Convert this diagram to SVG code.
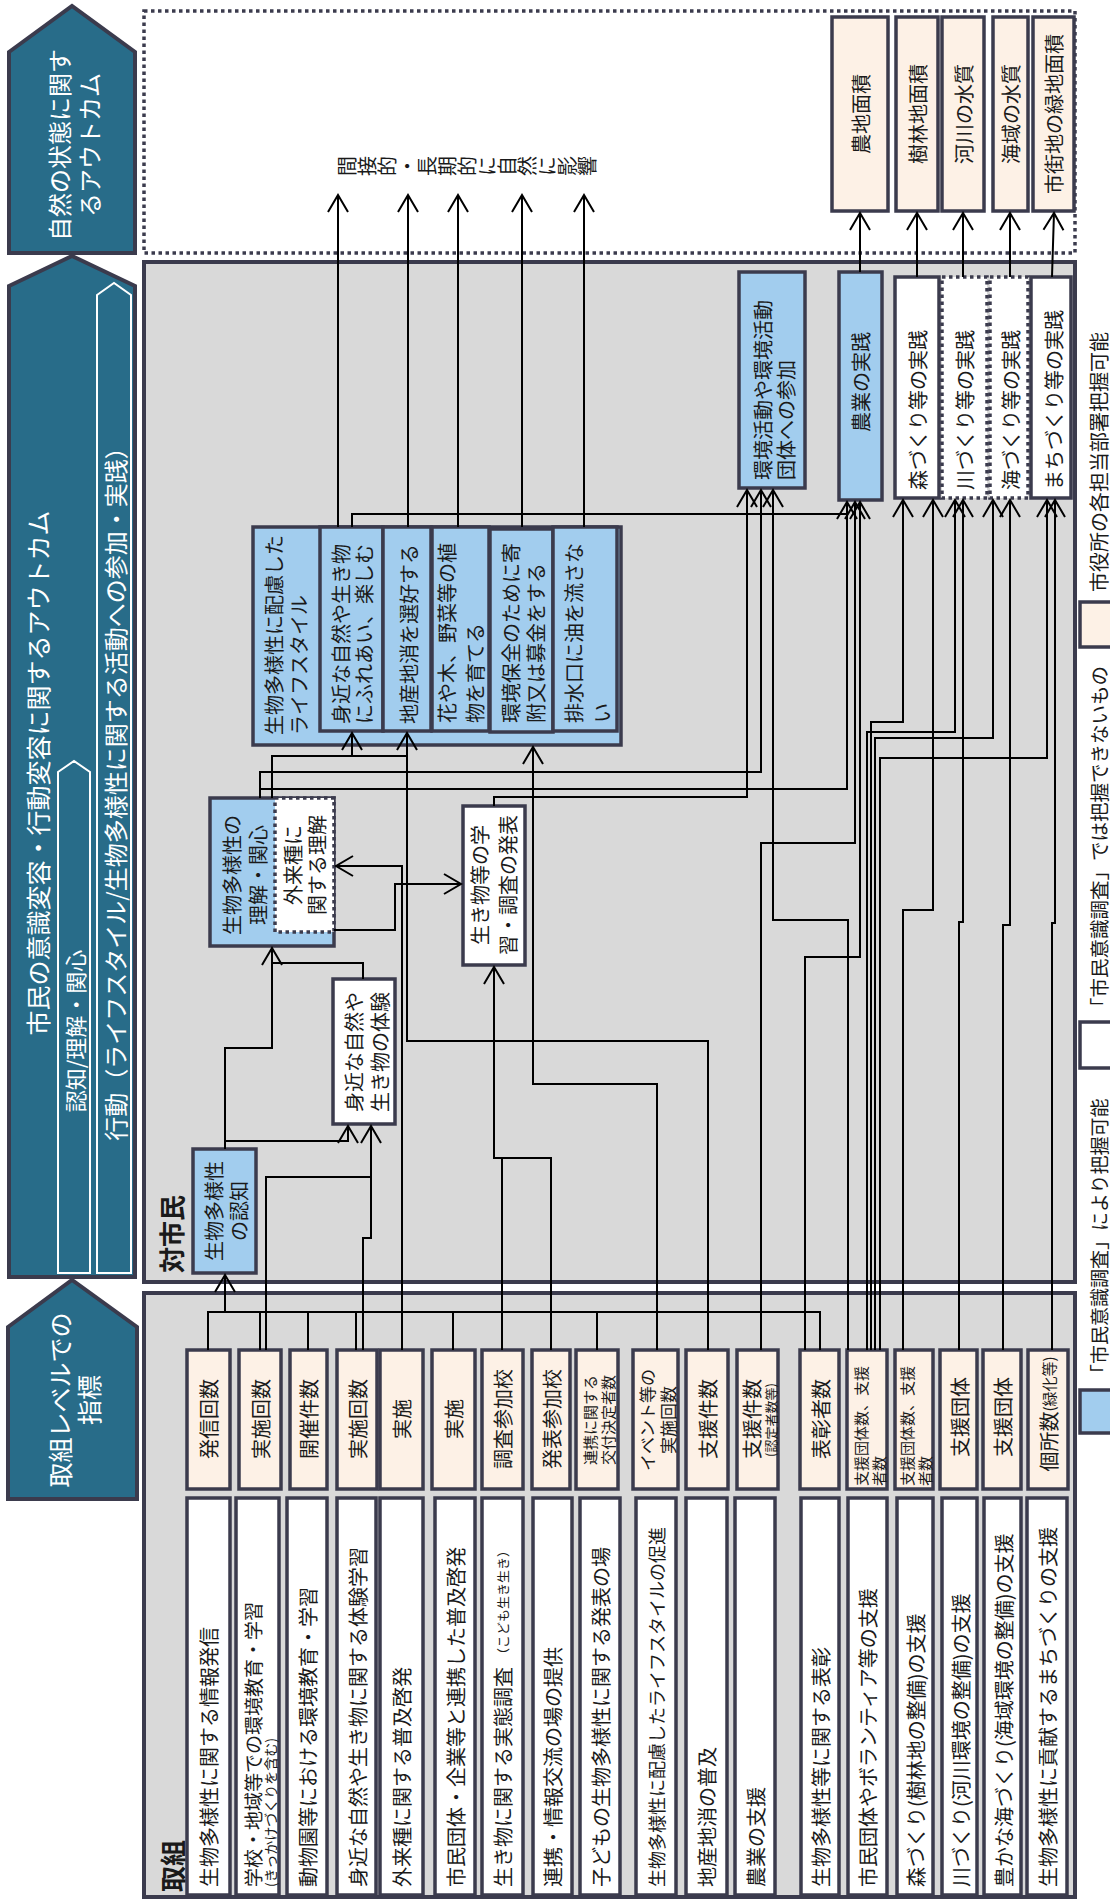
<svg xmlns="http://www.w3.org/2000/svg" width="1110" height="1899" viewBox="0 0 1110 1899">
<defs>
<style>
text{font-family:"Noto Sans CJK JP","Noto Sans",sans-serif;font-size:20px;fill:#1a1a1a}
.m{text-anchor:middle;dominant-baseline:central}
.s{text-anchor:start;dominant-baseline:central}
.wtx{fill:#fff}
.pent{fill:#286c89;stroke:#3b3b4d;stroke-width:4}
.inner{fill:none;stroke:#fff;stroke-width:2}
.region{fill:#d9d9d9;stroke:#3b3b4d;stroke-width:4}
.dotted{fill:#fff;stroke:#3b3b4d;stroke-width:3.5;stroke-dasharray:3.5 3.5}
.blue{fill:#a2cdee;stroke:#3b3b4d;stroke-width:3.5}
.peach{fill:#fdf1e6;stroke:#3b3b4d;stroke-width:3.5}
.white{fill:#fff;stroke:#3b3b4d;stroke-width:3.5}
.wdot{fill:#fff;stroke:#3b3b4d;stroke-width:3.5;stroke-dasharray:3.5 3.5}
.c{fill:none;stroke:#000;stroke-width:2}
.a{fill:none;stroke:#000;stroke-width:2;marker-end:url(#ah)}
.b{font-weight:bold;font-size:26px}
</style>
<marker id="ah" markerUnits="userSpaceOnUse" markerWidth="40" markerHeight="40" viewBox="-20 -20 40 40" refX="0" refY="0" orient="auto">
<path d="M-17,-10 L0,0 L-17,10" fill="none" stroke="#000" stroke-width="2"/>
</marker>
</defs>
<rect x="0" y="0" width="1110" height="1899" fill="#fff"/>

<!-- left header arrows -->
<g id="hdr-nature">
<polygon class="pent" points="9,52 72,6 135,52 135,253 9,253"/>
<text class="m wtx" style="font-size:24px" transform="translate(73 145) rotate(-90)"><tspan x="0" y="-15">自然の状態に関す</tspan><tspan x="0" y="15">るアウトカム</tspan></text>
</g>
<g id="hdr-citizen">
<polygon class="pent" points="9,286 72,256 135,286 135,1277 9,1277"/>
<polygon class="inner" points="58,772 74,761 90,772 90,1273 58,1273"/>
<polygon class="inner" points="97,295 114,283 131,295 131,1273 97,1273"/>
<text class="m wtx" style="font-size:25px" transform="translate(37 773) rotate(-90)">市民の意識変容・行動変容に関するアウトカム</text>
<text class="m wtx" style="font-size:22px" transform="translate(74 1031) rotate(-90)">認知/理解・関心</text>
<text class="m wtx" style="font-size:24px" transform="translate(114 788) rotate(-90)">行動（ライフスタイル/生物多様性に関する活動への参加・実践）</text>
</g>
<g id="hdr-indicator">
<polygon class="pent" points="8,1327 72,1280 137,1327 137,1499 8,1499"/>
<text class="m wtx" style="font-size:25px" transform="translate(73 1400) rotate(-90)"><tspan x="0" y="-14">取組レベルでの</tspan><tspan x="0" y="15">指標</tspan></text>
</g>

<!-- regions -->
<g id="region-nature">
<rect class="dotted" x="144" y="11" width="931" height="242"/>
<text transform="translate(337 166) rotate(-90)" style="writing-mode:vertical-rl">間接的・長期的に自然に影響</text>
</g>
<g id="region-citizen">
<rect class="region" x="144" y="262" width="931" height="1020"/>
<text class="s b" transform="translate(170 1273) rotate(-90)">対市民</text>
</g>
<g id="region-action">
<rect class="region" x="144" y="1293" width="931" height="604"/>
<text class="s b" transform="translate(171 1892) rotate(-90)">取組</text>
</g>

<!-- nature state boxes -->
<g id="n-farmland"><rect class="peach" x="832" y="17" width="56" height="194"/><text class="m" transform="translate(860 114) rotate(-90)">農地面積</text></g>
<g id="n-forest"><rect class="peach" x="896" y="17" width="42" height="194"/><text class="m" transform="translate(917 114) rotate(-90)">樹林地面積</text></g>
<g id="n-river"><rect class="peach" x="942" y="17" width="42" height="194"/><text class="m" transform="translate(963 114) rotate(-90)">河川の水質</text></g>
<g id="n-sea"><rect class="peach" x="993" y="17" width="35" height="194"/><text class="m" transform="translate(1010 114) rotate(-90)">海域の水質</text></g>
<g id="n-urban"><rect class="peach" x="1033" y="17" width="41" height="194"/><text class="m" transform="translate(1053 114) rotate(-90)">市街地の緑地面積</text></g>

<!-- practice boxes -->
<g id="p-activity"><rect class="blue" x="739" y="272" width="66" height="216"/><text class="s" transform="translate(762 480) rotate(-90)"><tspan x="0" y="0">環境活動や環境活動</tspan><tspan x="0" y="23">団体への参加</tspan></text></g>
<g id="p-agri"><rect class="blue" x="839" y="272" width="43" height="228"/><text class="m" transform="translate(860 382) rotate(-90)">農業の実践</text></g>
<g id="p-forest"><rect class="white" x="895" y="277" width="44" height="221"/><text class="s" transform="translate(917 490) rotate(-90)">森づくり等の実践</text></g>
<g id="p-river"><rect class="wdot" x="942" y="277" width="45" height="221"/><text class="s" transform="translate(964 490) rotate(-90)">川づくり等の実践</text></g>
<g id="p-sea"><rect class="wdot" x="990" y="277" width="38" height="221"/><text class="s" transform="translate(1010 490) rotate(-90)">海づくり等の実践</text></g>
<g id="p-town"><rect class="white" x="1031" y="277" width="40" height="221"/><text class="s" transform="translate(1053 490) rotate(-90)">まちづくり等の実践</text></g>

<!-- lifestyle -->
<g id="lifestyle">
<rect class="blue" x="253" y="527" width="368" height="218"/>
<text class="s" transform="translate(273 735) rotate(-90)"><tspan x="0" y="0">生物多様性に配慮した</tspan><tspan x="0" y="25">ライフスタイル</tspan></text>
<rect class="blue" x="320" y="527" width="63" height="204"/>
<text class="s" transform="translate(340 724) rotate(-90)"><tspan x="0" y="0">身近な自然や生き物</tspan><tspan x="0" y="23">にふれあい、楽しむ</tspan></text>
<rect class="blue" x="383" y="527" width="48" height="204"/>
<text class="s" transform="translate(408 724) rotate(-90)">地産地消を選好する</text>
<rect class="blue" x="432" y="527" width="57" height="204"/>
<text class="s" transform="translate(446 723) rotate(-90)"><tspan x="0" y="0">花や木、野菜等の植</tspan><tspan x="0" y="28">物を育てる</tspan></text>
<rect class="blue" x="490" y="529" width="63" height="203"/>
<text class="s" transform="translate(510 723) rotate(-90)"><tspan x="0" y="0">環境保全のために寄</tspan><tspan x="0" y="25">附又は募金をする</tspan></text>
<rect class="blue" x="553" y="527" width="64" height="204"/>
<text class="s" transform="translate(573 723) rotate(-90)"><tspan x="0" y="0">排水口に油を流さな</tspan><tspan x="0" y="28">い</tspan></text>
</g>

<!-- middle nodes -->
<g id="understanding">
<rect class="blue" x="210" y="798" width="124" height="148"/>
<rect class="wdot" x="275" y="798" width="59" height="134"/>
<text class="m" transform="translate(244 875) rotate(-90)"><tspan x="0" y="-13">生物多様性の</tspan><tspan x="0" y="13">理解・関心</tspan></text>
<text class="m" transform="translate(304 865) rotate(-90)"><tspan x="0" y="-12">外来種に</tspan><tspan x="0" y="12">関する理解</tspan></text>
</g>
<g id="awareness"><rect class="blue" x="193" y="1149" width="63" height="124"/><text class="m" transform="translate(225 1211) rotate(-90)"><tspan x="0" y="-12">生物多様性</tspan><tspan x="0" y="13">の認知</tspan></text></g>
<g id="experience"><rect class="white" x="333" y="979" width="62" height="145"/><text class="m" transform="translate(366 1052) rotate(-90)"><tspan x="0" y="-13">身近な自然や</tspan><tspan x="0" y="13">生き物の体験</tspan></text></g>
<g id="study"><rect class="white" x="463" y="806" width="62" height="159"/><text class="m" transform="translate(493 885) rotate(-90)"><tspan x="0" y="-14">生き物等の学</tspan><tspan x="0" y="14">習・調査の発表</tspan></text></g>

<!-- indicators -->
<g id="i1"><rect class="peach" x="187" y="1350" width="43" height="139"/><text class="m" transform="translate(208 1419) rotate(-90)">発信回数</text></g>
<g id="i2"><rect class="peach" x="239" y="1350" width="42" height="139"/><text class="m" transform="translate(260 1419) rotate(-90)">実施回数</text></g>
<g id="i3"><rect class="peach" x="290" y="1350" width="37" height="139"/><text class="m" transform="translate(308 1419) rotate(-90)">開催件数</text></g>
<g id="i4"><rect class="peach" x="337" y="1350" width="40" height="139"/><text class="m" transform="translate(357 1419) rotate(-90)">実施回数</text></g>
<g id="i5"><rect class="peach" x="380" y="1350" width="43" height="139"/><text class="m" transform="translate(401 1419) rotate(-90)">実施</text></g>
<g id="i6"><rect class="peach" x="432" y="1350" width="43" height="139"/><text class="m" transform="translate(453 1419) rotate(-90)">実施</text></g>
<g id="i7"><rect class="peach" x="482" y="1350" width="41" height="139"/><text class="m" transform="translate(502 1419) rotate(-90)">調査参加校</text></g>
<g id="i8"><rect class="peach" x="532" y="1350" width="38" height="139"/><text class="m" transform="translate(551 1419) rotate(-90)">発表参加校</text></g>
<g id="i9"><rect class="peach" x="576" y="1350" width="42" height="139"/><text class="m" style="font-size:15px" transform="translate(598 1420) rotate(-90)"><tspan x="0" y="-9">連携に関する</tspan><tspan x="0" y="9">交付決定者数</tspan></text></g>
<g id="i10"><rect class="peach" x="633" y="1350" width="45" height="139"/><text class="m" style="font-size:17px" transform="translate(656 1420) rotate(-90)"><tspan x="0" y="-10">イベント等の</tspan><tspan x="0" y="11">実施回数</tspan></text></g>
<g id="i11"><rect class="peach" x="686" y="1350" width="42" height="139"/><text class="m" transform="translate(707 1419) rotate(-90)">支援件数</text></g>
<g id="i12"><rect class="peach" x="737" y="1350" width="41" height="139"/><text class="m" transform="translate(751 1419) rotate(-90)">支援件数</text><text class="m" style="font-size:13px" transform="translate(770 1420) rotate(-90)">(認定者数等)</text></g>
<g id="i13"><rect class="peach" x="800" y="1350" width="39" height="139"/><text class="m" transform="translate(820 1419) rotate(-90)">表彰者数</text></g>
<g id="i14"><rect class="peach" x="847" y="1350" width="40" height="139"/><text class="s" style="font-size:15px" transform="translate(860 1486) rotate(-90)"><tspan x="0" y="0">支援団体数、支援</tspan><tspan x="0" y="18">者数</tspan></text></g>
<g id="i15"><rect class="peach" x="895" y="1350" width="38" height="139"/><text class="s" style="font-size:15px" transform="translate(906 1486) rotate(-90)"><tspan x="0" y="0">支援団体数、支援</tspan><tspan x="0" y="18">者数</tspan></text></g>
<g id="i16"><rect class="peach" x="940" y="1350" width="37" height="139"/><text class="m" transform="translate(959 1417) rotate(-90)">支援団体</text></g>
<g id="i17"><rect class="peach" x="983" y="1350" width="38" height="139"/><text class="m" transform="translate(1002 1417) rotate(-90)">支援団体</text></g>
<g id="i18"><rect class="peach" x="1028" y="1350" width="40" height="139"/><text class="m" transform="translate(1048 1414) rotate(-90)">個所数<tspan style="font-size:15px">(緑化等)</tspan></text></g>

<!-- activities -->
<g id="a1"><rect class="white" x="187" y="1498" width="43" height="397"/><text class="s" transform="translate(208 1887) rotate(-90)">生物多様性に関する情報発信</text></g>
<g id="a2"><rect class="white" x="236" y="1498" width="43" height="397"/><text class="s" transform="translate(252 1887) rotate(-90)"><tspan x="0" y="0" style="font-size:19px">学校・地域等での環境教育・学習</tspan><tspan x="0" y="18" style="font-size:14px">(きっかけづくりを含む)</tspan></text></g>
<g id="a3"><rect class="white" x="287" y="1498" width="40" height="397"/><text class="s" transform="translate(307 1887) rotate(-90)">動物園等における環境教育・学習</text></g>
<g id="a4"><rect class="white" x="337" y="1498" width="39" height="397"/><text class="s" transform="translate(357 1887) rotate(-90)">身近な自然や生き物に関する体験学習</text></g>
<g id="a5"><rect class="white" x="380" y="1498" width="43" height="397"/><text class="s" transform="translate(401 1887) rotate(-90)">外来種に関する普及啓発</text></g>
<g id="a6"><rect class="white" x="435" y="1498" width="40" height="397"/><text class="s" transform="translate(455 1887) rotate(-90)">市民団体・企業等と連携した普及啓発</text></g>
<g id="a7"><rect class="white" x="482" y="1498" width="41" height="397"/><text class="s" transform="translate(502 1887) rotate(-90)">生き物に関する実態調査<tspan style="font-size:13px" dx="6">（こども生き生き）</tspan></text></g>
<g id="a8"><rect class="white" x="533" y="1498" width="39" height="397"/><text class="s" transform="translate(552 1887) rotate(-90)">連携・情報交流の場の提供</text></g>
<g id="a9"><rect class="white" x="580" y="1498" width="40" height="397"/><text class="s" transform="translate(600 1887) rotate(-90)">子どもの生物多様性に関する発表の場</text></g>
<g id="a10"><rect class="white" x="636" y="1498" width="40" height="397"/><text class="s" style="font-size:18px" transform="translate(656 1887) rotate(-90)">生物多様性に配慮したライフスタイルの促進</text></g>
<g id="a11"><rect class="white" x="686" y="1498" width="41" height="397"/><text class="s" transform="translate(706 1887) rotate(-90)">地産地消の普及</text></g>
<g id="a12"><rect class="white" x="735" y="1498" width="40" height="397"/><text class="s" transform="translate(755 1887) rotate(-90)">農業の支援</text></g>
<g id="a13"><rect class="white" x="801" y="1498" width="38" height="397"/><text class="s" transform="translate(820 1887) rotate(-90)">生物多様性等に関する表彰</text></g>
<g id="a14"><rect class="white" x="848" y="1498" width="39" height="397"/><text class="s" transform="translate(867 1887) rotate(-90)">市民団体やボランティア等の支援</text></g>
<g id="a15"><rect class="white" x="897" y="1498" width="36" height="397"/><text class="s" transform="translate(915 1887) rotate(-90)">森づくり(樹林地の整備)の支援</text></g>
<g id="a16"><rect class="white" x="942" y="1498" width="35" height="397"/><text class="s" transform="translate(960 1887) rotate(-90)">川づくり(河川環境の整備)の支援</text></g>
<g id="a17"><rect class="white" x="984" y="1498" width="37" height="397"/><text class="s" transform="translate(1003 1887) rotate(-90)">豊かな海づくり(海域環境の整備)の支援</text></g>
<g id="a18"><rect class="white" x="1027" y="1498" width="40" height="397"/><text class="s" transform="translate(1047 1887) rotate(-90)">生物多様性に貢献するまちづくりの支援</text></g>

<!-- legend -->
<g id="legend">
<rect class="peach" x="1080" y="602" width="40" height="45"/>
<text class="s" transform="translate(1098 592) rotate(-90)">市役所の各担当部署把握可能</text>
<rect class="white" x="1080" y="1022" width="40" height="46"/>
<text class="s" style="font-size:19.5px" transform="translate(1098 1017) rotate(-90)">「市民意識調査」では把握できないもの</text>
<rect class="blue" x="1080" y="1390" width="40" height="43"/>
<text class="s" style="font-size:19px" transform="translate(1098 1383) rotate(-90)">「市民意識調査」により把握可能</text>
</g>

<!-- connectors -->
<g id="connectors">
<path class="a" d="M338,527 V195"/>
<path class="a" d="M408,527 V195"/>
<path class="a" d="M458,527 V195"/>
<path class="a" d="M522,527 V195"/>
<path class="a" d="M584,527 V195"/>
<path class="a" d="M860,272 V213"/>
<path class="a" d="M917,277 V213"/>
<path class="a" d="M963,277 V213"/>
<path class="a" d="M1010,277 V213"/>
<path class="a" d="M1052,277 L1054,213"/>

<path class="c" d="M208,1350 V1312 H820 V1350"/>
<path class="c" d="M260,1350 V1312"/>
<path class="c" d="M308,1350 V1312"/>
<path class="c" d="M356,1350 V1312"/>
<path class="c" d="M453,1350 V1312"/>
<path class="c" d="M597,1350 V1312"/>
<path class="a" d="M225,1312 V1275"/>

<path class="a" d="M225,1149 V1048 H272 V948"/>
<path class="a" d="M225,1141 H348 V1126"/>
<path class="c" d="M363,979 V963 H272"/>
<path class="c" d="M266,1350 V1177 H371"/>
<path class="a" d="M363,1350 V1238 H371 V1126"/>
<path class="a" d="M402,1350 V866 H336"/>
<path class="a" d="M334,930 H395 V884 H461"/>
<path class="c" d="M502,1350 V1158"/>
<path class="a" d="M551,1350 V1158 H494 V967"/>
<path class="a" d="M494,806 V797 H747 V490"/>
<path class="a" d="M260,798 V772 H761 V490"/>
<path class="a" d="M260,789 H847 V502"/>
<path class="c" d="M272,798 V756 H407"/>
<path class="a" d="M352,756 V733"/>
<path class="a" d="M708,1350 V1041 H407 V733"/>
<path class="a" d="M657,1350 V1084 H533 V747"/>
<path class="c" d="M352,527 V514 H847"/>
<path class="a" d="M848,1350 V920 H773 V490"/>
<path class="a" d="M761,1350 V843 H855 V502"/>
<path class="a" d="M805,1350 V957 H860 V502"/>
<path class="a" d="M871,1350 V722 H903 V500"/>
<path class="a" d="M867,1350 V732 H955 V500"/>
<path class="a" d="M875,1350 V738 H993 V500"/>
<path class="a" d="M880,1350 V758 H1047 V500"/>
<path class="a" d="M903,1350 V910 H933 V500"/>
<path class="a" d="M959,1350 V922 H963 V500"/>
<path class="a" d="M1003,1350 V925 H1010 V500"/>
<path class="a" d="M1052,1350 V923 H1055 V500"/>
</g>
</svg>
